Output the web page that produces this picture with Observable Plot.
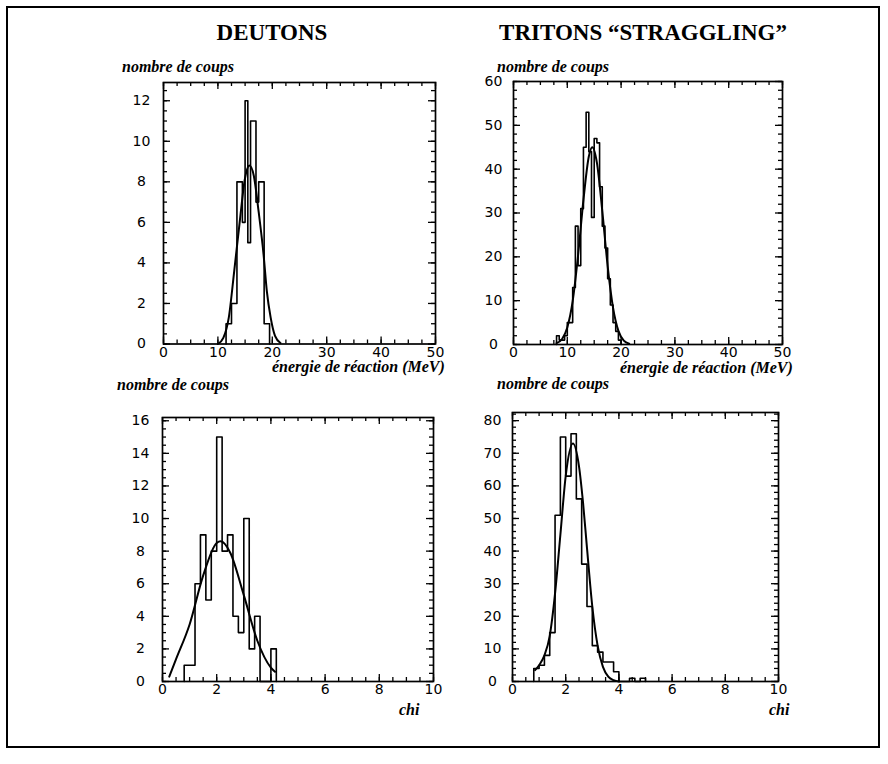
<!DOCTYPE html>
<html><head><meta charset="utf-8">
<script src="https://cdn.jsdelivr.net/npm/d3@7"></script>
<script src="https://cdn.jsdelivr.net/npm/@observablehq/plot@0.6"></script>
<style>
body{margin:0;background:#fff;}
#page{position:relative;width:888px;height:764px;overflow:hidden;background:#fff;}
#border{position:absolute;left:6px;top:6px;width:874px;height:742px;border:2px solid #000;box-sizing:border-box}
.t{position:absolute;white-space:nowrap;color:#000;line-height:1;}
.title{font-family:"Liberation Serif",serif;font-weight:bold;font-size:23px;transform:translateX(-50%);}
.lab{font-family:"Liberation Serif",serif;font-weight:bold;font-style:italic;font-size:16px;}
.panel{position:absolute;}
</style></head><body><div id="page">
<div id="border"></div>
<div class="t title" style="left:272px;top:21px">DEUTONS</div>
<div class="t title" style="left:643px;top:21px">TRITONS “STRAGGLING”</div>
<div class="t lab" style="left:122px;top:59px">nombre de coups</div>
<div class="t lab" style="left:497px;top:59px">nombre de coups</div>
<div class="t lab" style="left:117px;top:377px">nombre de coups</div>
<div class="t lab" style="left:497px;top:376px">nombre de coups</div>
<div class="t lab" style="left:272px;top:359px">énergie de réaction (MeV)</div>
<div class="t lab" style="left:620px;top:360px">énergie de réaction (MeV)</div>
<div class="t lab" style="left:399px;top:702px">chi</div>
<div class="t lab" style="left:769px;top:702px">chi</div>
</div>
<script>
// ---- data ----
// Deutons, reaction energy (MeV): histogram bins of 0.5 MeV starting at 11.5
const deutonsEnergyBinStart = 11.5;
const deutonsEnergyBinWidth = 0.5;
const deutonsEnergyCounts = [1, 1, 2, 2, 8, 8, 6, 12, 5, 11, 11, 7, 8, 8, 1, 1];
const deutonsEnergyFitX = [10, 11, 12, 13, 14, 15, 15.8, 16.6, 17.5, 18.4, 19, 19.7, 20.5, 21.5];
const deutonsEnergyFitY = [0, 0.3, 1.3, 3.6, 6.0, 8.2, 8.8, 8.3, 6.5, 4.4, 2.6, 1.3, 0.4, 0.05];

// Tritons, reaction energy (MeV)
const tritonsEnergyBinStart = 8.0;
const tritonsEnergyBinWidth = 0.5;
const tritonsEnergyCounts = [2, 1, 1, 2, 5, 5, 13, 27, 18, 31, 45, 53, 44, 29, 47, 46, 36, 27, 22, 15, 9, 5, 3, 1];
const tritonsEnergyFitX = [8, 9, 10, 11, 12, 13, 14, 14.65, 15.5, 16.5, 17.5, 18.5, 19.5, 20.5, 21.5];
const tritonsEnergyFitY = [0.3, 1.2, 3.9, 9.9, 20.3, 33, 42.9, 45, 41.5, 30.5, 17.9, 8.4, 3.1, 0.9, 0.2];

// Deutons, chi
const deutonsChiBinStart = 0.8;
const deutonsChiBinWidth = 0.2;
const deutonsChiCounts = [1, 1, 6, 9, 5, 8, 15, 8, 9, 4, 3, 10, 2, 4, 0, 0, 2];
const deutonsChiFitX = [0.25, 0.5, 1.0, 1.5, 2.0, 2.15, 2.5, 3.0, 3.5, 4.0, 4.15];
const deutonsChiFitY = [0.3, 1.37, 3.5, 6.5, 8.5, 8.6, 7.9, 5.3, 2.5, 0.85, 0.6];

// Tritons, chi
const tritonsChiBinStart = 0.8;
const tritonsChiBinWidth = 0.2;
const tritonsChiCounts = [4, 5, 8, 15, 51, 75, 63, 76, 56, 36, 23, 11, 9, 6, 6, 3, 0, 0, 1, 0, 1];
const tritonsChiFitX = [0.85, 1.0, 1.2, 1.4, 1.6, 1.8, 2.0, 2.27, 2.5, 2.65, 2.8, 3.0, 3.2, 3.4, 3.6, 3.8, 4.0];
const tritonsChiFitY = [3.5, 5, 8, 14, 27, 45, 63, 73, 66, 55, 41, 23, 11, 4.5, 1.5, 0.4, 0];

// axis tick labels
const energyTicks = [0, 10, 20, 30, 40, 50];
const chiTicks = [0, 2, 4, 6, 8, 10];
const deutonsEnergyYTicks = [0, 2, 4, 6, 8, 10, 12];
const tritonsEnergyYTicks = [0, 10, 20, 30, 40, 50, 60];
const deutonsChiYTicks = [0, 2, 4, 6, 8, 10, 12, 14, 16];
const tritonsChiYTicks = [0, 10, 20, 30, 40, 50, 60, 70, 80];

// ---- drawing ----
function range(a, b, step) { const out = []; for (let v = a; v <= b + 1e-9; v += step) out.push(+v.toFixed(6)); return out; }

function panel(cfg) {
  const [fx0, fy0, fx1, fy1] = cfg.frame;
  const fw = fx1 - fx0, fh = fy1 - fy0;
  const mL = 48, mR = 12, mT = 14, mB = 28;
  const W = mL + fw + mR, H = mT + fh + mB;
  const pts = [{x: cfg.start, y: 0}];
  cfg.counts.forEach((c, i) => {
    const x0 = cfg.start + i * cfg.width;
    pts.push({x: x0, y: c}, {x: x0 + cfg.width, y: c});
  });
  pts.push({x: cfg.start + cfg.counts.length * cfg.width, y: 0});
  const fit = cfg.fitX.map((x, i) => ({x, y: cfg.fitY[i]}));
  const xMinor = range(cfg.xDomain[0], cfg.xDomain[1], cfg.xMinorStep);
  const yMinor = range(0, cfg.yDomain[1], cfg.yMinorStep);
  const tk = {stroke: "#000", strokeWidth: 1.3};
  const plot = Plot.plot({
    width: W, height: H,
    marginLeft: mL, marginRight: mR, marginTop: mT, marginBottom: mB,
    style: {fontFamily: "DejaVu Sans, sans-serif", fontSize: "14px", background: "transparent", color: "#000", overflow: "visible"},
    x: {domain: cfg.xDomain, ticks: cfg.xTicks, tickSize: 0, tickPadding: 3, label: null, tickFormat: d => String(d)},
    y: {domain: cfg.yDomain, axis: null},
    marks: [
      Plot.tickX(xMinor, {x: d => d, insetTop: fh - 4, ...tk}),
      Plot.tickX(xMinor, {x: d => d, insetBottom: fh - 4, ...tk}),
      Plot.tickX(cfg.xTicks, {x: d => d, insetTop: fh - 7, ...tk}),
      Plot.tickX(cfg.xTicks, {x: d => d, insetBottom: fh - 7, ...tk}),
      Plot.tickY(yMinor, {y: d => d, insetRight: fw - 4, ...tk}),
      Plot.tickY(yMinor, {y: d => d, insetLeft: fw - 4, ...tk}),
      Plot.tickY(cfg.yTicks, {y: d => d, insetRight: fw - 7, ...tk}),
      Plot.tickY(cfg.yTicks, {y: d => d, insetLeft: fw - 7, ...tk}),
      Plot.text(cfg.yTicks, {y: d => d, text: d => String(d), frameAnchor: "left", dx: -cfg.yLabelOffset, textAnchor: "middle", fill: "#000", fontSize: 14}),
      Plot.line(pts, {x: "x", y: "y", stroke: "#000", strokeWidth: 1.6}),
      Plot.line(fit, {x: "x", y: "y", stroke: "#000", strokeWidth: 2, curve: "monotone-x"}),
      Plot.frame({stroke: "#000", strokeWidth: 1.7})
    ]
  });
  plot.classList.add("panel");
  plot.style.left = (fx0 - mL) + "px";
  plot.style.top = (fy0 - mT) + "px";
  document.getElementById("page").appendChild(plot);
}

panel({frame: [163, 82, 435, 343.5], xDomain: [0, 50], yDomain: [0, 12.9],
  xTicks: energyTicks, yTicks: deutonsEnergyYTicks, xMinorStep: 2.5, yMinorStep: 0.5, yLabelOffset: 22,
  start: deutonsEnergyBinStart, width: deutonsEnergyBinWidth, counts: deutonsEnergyCounts,
  fitX: deutonsEnergyFitX, fitY: deutonsEnergyFitY});
panel({frame: [513, 80.5, 782, 343.5], xDomain: [0, 50], yDomain: [0, 60],
  xTicks: energyTicks, yTicks: tritonsEnergyYTicks, xMinorStep: 2.5, yMinorStep: 2, yLabelOffset: 20,
  start: tritonsEnergyBinStart, width: tritonsEnergyBinWidth, counts: tritonsEnergyCounts,
  fitX: tritonsEnergyFitX, fitY: tritonsEnergyFitY});
panel({frame: [162, 417, 433, 681], xDomain: [0, 10], yDomain: [0, 16.2],
  xTicks: chiTicks, yTicks: deutonsChiYTicks, xMinorStep: 0.5, yMinorStep: 0.5, yLabelOffset: 22,
  start: deutonsChiBinStart, width: deutonsChiBinWidth, counts: deutonsChiCounts,
  fitX: deutonsChiFitX, fitY: deutonsChiFitY});
panel({frame: [512, 412, 778, 681], xDomain: [0, 10], yDomain: [0, 82.5],
  xTicks: chiTicks, yTicks: tritonsChiYTicks, xMinorStep: 0.5, yMinorStep: 2, yLabelOffset: 20,
  start: tritonsChiBinStart, width: tritonsChiBinWidth, counts: tritonsChiCounts,
  fitX: tritonsChiFitX, fitY: tritonsChiFitY});
</script>
</body></html>
